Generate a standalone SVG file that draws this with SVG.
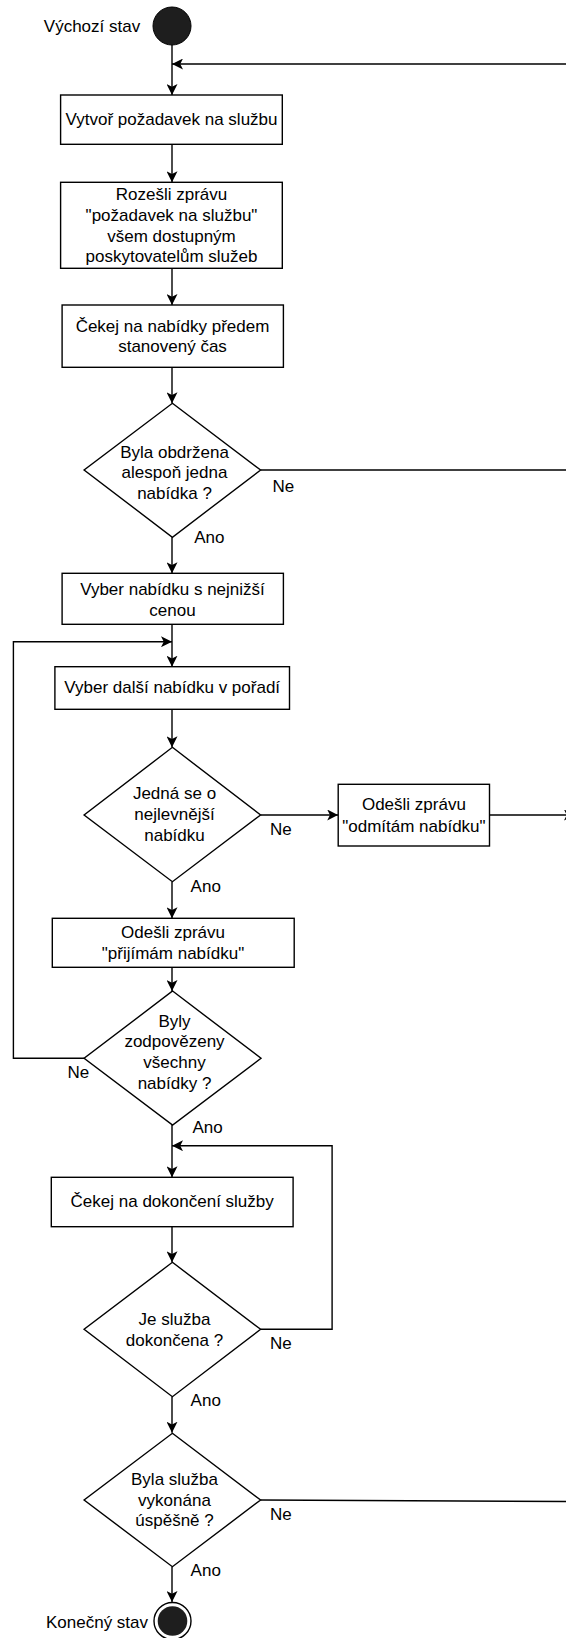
<svg xmlns="http://www.w3.org/2000/svg" width="566" height="1638" viewBox="0 0 566 1638">
<defs>
<marker id="arr" markerUnits="userSpaceOnUse" markerWidth="11" markerHeight="11" viewBox="0 0 10 10" refX="10" refY="5" orient="auto">
<path d="M0,0 L10,5 L0,10 L2.5,5 Z" fill="#000"/>
</marker>
<style>
text{font-family:"Liberation Sans",Arial,sans-serif;font-size:17px;fill:#000}
.c{text-anchor:middle}
.box{fill:#fff;stroke:#000;stroke-width:1.4}
.ln{fill:none;stroke:#000;stroke-width:1.4}
.a{marker-end:url(#arr)}
</style>
</defs>
<rect width="566" height="1638" fill="#fff"/>
<g id="connectors">
<path class="ln a" d="M172,45 V95"/>
<path class="ln a" d="M566,64 H172"/>
<path class="ln a" d="M172,144.3 V182.3"/>
<path class="ln a" d="M172,268.3 V305"/>
<path class="ln a" d="M172,367.3 V403.3"/>
<path class="ln" d="M260.6,470 H566"/>
<path class="ln a" d="M172,537.3 V573.3"/>
<path class="ln a" d="M172,624.3 V666.7"/>
<path class="ln a" d="M172,709.3 V747.3"/>
<path class="ln a" d="M260.6,815 H338.2"/>
<path class="ln a" d="M489.5,815 H575"/>
<path class="ln a" d="M172,881.7 V918.3"/>
<path class="ln a" d="M172,967.3 V991"/>
<path class="ln a" d="M84.1,1058.3 H13.4 V641.7 H172"/>
<path class="ln a" d="M172,1125 V1177.3"/>
<path class="ln a" d="M172,1226.7 V1262.3"/>
<path class="ln a" d="M260.6,1329.3 H332.1 V1145.7 H172"/>
<path class="ln a" d="M172,1396.7 V1432.7"/>
<path class="ln" d="M260.6,1500 L566,1501.5"/>
<path class="ln a" d="M172,1566.7 V1602"/>
</g>
<g id="start">
<circle cx="172" cy="26" r="19" fill="#1e1e1e" stroke="#000" stroke-width="1"/>
<text x="92" y="32" class="c">Výchozí stav</text>
</g>
<g id="n1">
<rect class="box" x="60.6" y="95" width="221.7" height="49.3"/>
<text x="171.5" y="125" class="c">Vytvoř požadavek na službu</text>
</g>
<g id="n2">
<rect class="box" x="60.6" y="182.3" width="221.7" height="86"/>
<text class="c" x="171.5" y="200.4">Rozešli zprávu</text>
<text class="c" x="171.5" y="221">"požadavek na službu"</text>
<text class="c" x="171.5" y="241.6">všem dostupným</text>
<text class="c" x="171.5" y="262.2">poskytovatelům služeb</text>
</g>
<g id="n3">
<rect class="box" x="62.1" y="305" width="221.3" height="62.3"/>
<text class="c" x="172.5" y="331.7">Čekej na nabídky předem</text>
<text class="c" x="172.5" y="352.3">stanovený čas</text>
</g>
<g id="d1">
<path class="box" d="M172.4,403.3 L260.6,470 L172.4,537.3 L84.1,470 Z"/>
<text class="c" x="174.5" y="457.7">Byla obdržena</text>
<text class="c" x="174.5" y="478.3">alespoň jedna</text>
<text class="c" x="174.5" y="499">nabídka ?</text>
<text x="272.5" y="491.7">Ne</text>
<text x="194.2" y="543.3">Ano</text>
</g>
<g id="n4">
<rect class="box" x="62.1" y="573.3" width="221.3" height="51"/>
<text class="c" x="172.5" y="595">Vyber nabídku s nejnižší</text>
<text class="c" x="172.5" y="615.5">cenou</text>
</g>
<g id="n5">
<rect class="box" x="54.9" y="666.7" width="234.6" height="42.6"/>
<text class="c" x="172.2" y="693.3">Vyber další nabídku v pořadí</text>
</g>
<g id="d2">
<path class="box" d="M172.4,747.3 L260.6,815 L172.4,881.7 L84.1,815 Z"/>
<text class="c" x="174.5" y="799.3">Jedná se o</text>
<text class="c" x="174.5" y="820.3">nejlevnější</text>
<text class="c" x="174.5" y="840.7">nabídku</text>
<text x="270" y="835">Ne</text>
<text x="190.6" y="891.7">Ano</text>
</g>
<g id="n6">
<rect class="box" x="338.2" y="784.3" width="151.3" height="61.7"/>
<text class="c" x="413.9" y="810">Odešli zprávu</text>
<text class="c" x="413.9" y="831.7">"odmítám nabídku"</text>
</g>
<g id="n7">
<rect class="box" x="52.3" y="918.3" width="241.9" height="49"/>
<text class="c" x="173" y="938.3">Odešli zprávu</text>
<text class="c" x="173" y="958.8">"přijímám nabídku"</text>
</g>
<g id="d3">
<path class="box" d="M172.6,991 L261,1058.3 L172.6,1125 L84.1,1058.3 Z"/>
<text class="c" x="174.5" y="1026.7">Byly</text>
<text class="c" x="174.5" y="1047.3">zodpovězeny</text>
<text class="c" x="174.5" y="1068">všechny</text>
<text class="c" x="174.5" y="1088.5">nabídky ?</text>
<text x="67.5" y="1078.3">Ne</text>
<text x="192.4" y="1133.3">Ano</text>
</g>
<g id="n8">
<rect class="box" x="51.3" y="1177.3" width="241.8" height="49.4"/>
<text class="c" x="172.2" y="1206.7">Čekej na dokončení služby</text>
</g>
<g id="d4">
<path class="box" d="M172.4,1262.3 L260.6,1329.3 L172.4,1396.7 L84.1,1329.3 Z"/>
<text class="c" x="174.5" y="1325">Je služba</text>
<text class="c" x="174.5" y="1346">dokončena ?</text>
<text x="270" y="1349.3">Ne</text>
<text x="190.6" y="1406">Ano</text>
</g>
<g id="d5">
<path class="box" d="M172.4,1433.3 L260.6,1500 L172.4,1566.7 L84.1,1500 Z"/>
<text class="c" x="174.5" y="1485">Byla služba</text>
<text class="c" x="174.5" y="1505.7">vykonána</text>
<text class="c" x="174.5" y="1526">úspěšně ?</text>
<text x="270" y="1520">Ne</text>
<text x="190.6" y="1576">Ano</text>
</g>
<g id="end">
<circle cx="172.5" cy="1621" r="18.5" fill="#fff" stroke="#000" stroke-width="1.4"/>
<circle cx="172.5" cy="1621" r="14.8" fill="#1e1e1e"/>
<text x="97" y="1628.3" class="c">Konečný stav</text>
</g>
</svg>
